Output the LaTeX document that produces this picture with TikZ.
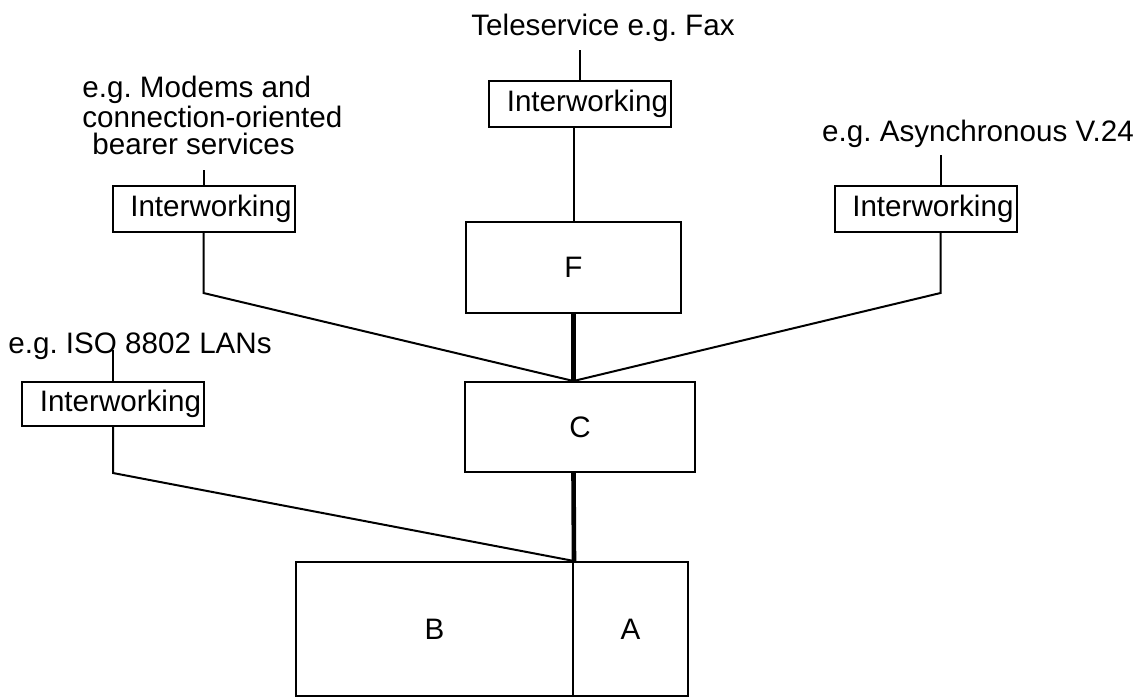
\documentclass[tikz,border=0pt]{standalone}
\usepackage{fontspec}
\setmainfont{Liberation Sans}
\frenchspacing
\begin{document}
\begin{tikzpicture}[x=0.5pt,y=-0.5pt,
    every node/.style={font=\fontsize{14.8}{13.5}\selectfont},
    box/.style={draw, line width=1pt, inner sep=0pt},
    iw/.style={box, minimum width=91pt, minimum height=23pt,
      text width=88pt, align=right},
    link/.style={line width=1pt},
    trunk/.style={line width=2.3pt}]
  \useasboundingbox (0,0) rectangle (1141,697);
  % main blocks
  \node[box, minimum width=107.5pt, minimum height=45.5pt] (F) at (573.5,267.5) {F};
  \node[box, minimum width=115pt, minimum height=45pt] (C) at (580,427) {C};
  \node[box, minimum width=138.5pt, minimum height=67pt] (B) at (434.5,629) {B};
  \node[box, minimum width=57.5pt, minimum height=67pt] (A) at (630.5,629) {A};
  % interworking units
  \node[iw] (iwF) at (580,103.5) {Interworking};
  \node[iw] (iwM) at (203.5,209) {Interworking};
  \node[iw] (iwA) at (925.5,209) {Interworking};
  \node[iw, minimum height=22pt] (iwI) at (113,404) {Interworking};
  % services
  \node[anchor=base] (tele) at (603,35) {Teleservice e.g. Fax};
  \node[anchor=base] (async) at (978,141) {e.g. Asynchronous V.24};
  \node[anchor=base west, inner sep=0pt] (iso) at (8,353) {e.g. ISO 8802 LANs};
  \node[anchor=north west, inner sep=0pt, align=left] (modem) at (82,76)
    {e.g. Modems and\\connection-oriented\\\hspace*{5pt}bearer services};
  % connections
  \coordinate (jC) at (F.south |- C.north);
  \draw[trunk] (F.south) -- (jC);
  \draw[trunk] (jC |- C.south) -- (B.north east);
  \draw[link] (iwF.north) -- ++(0,-30);
  \draw[link] (iwF.south -| F.north) -- (F.north);
  \draw[link] (iwM.north) -- ++(0,-15);
  \draw[link] (iwM.south) -- ++(0,60) -- (jC);
  \draw[link] ([xshift=7.5pt]iwA.north) -- ++(0,-30);
  \draw[link] ([xshift=7.5pt]iwA.south) -- ++(0,60) -- (jC);
  \draw[link] (iwI.north) -- ++(0,-31);
  \draw[link] (iwI.south) -- ++(0,46) -- (B.north east);
\end{tikzpicture}
\end{document}
